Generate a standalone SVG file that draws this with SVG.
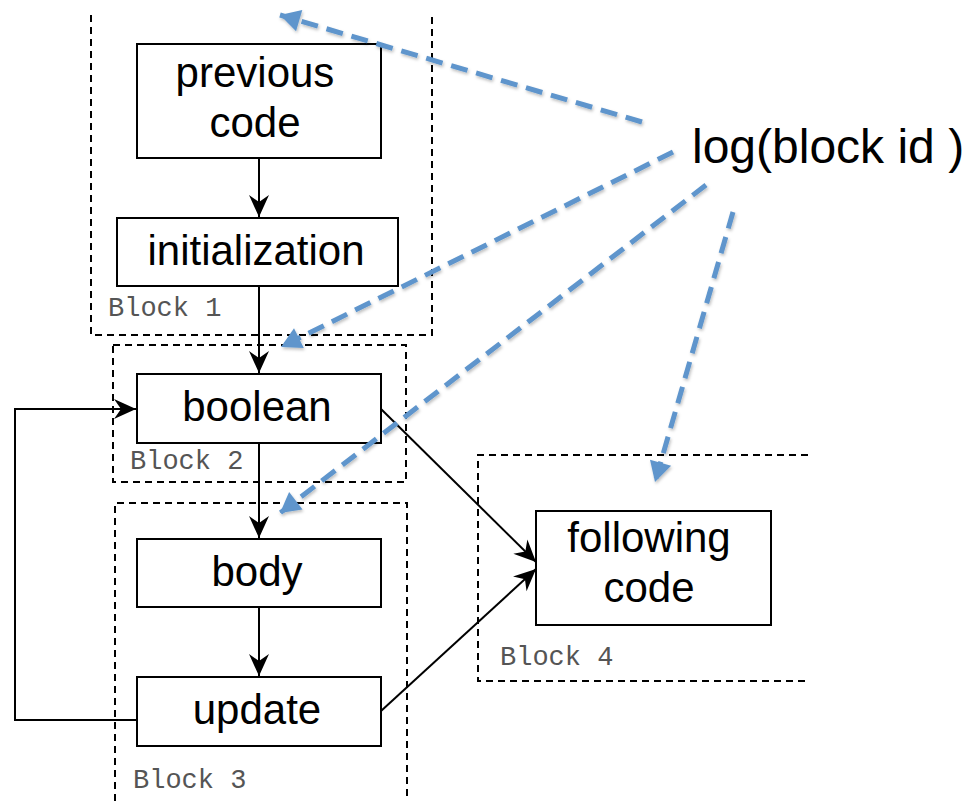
<svg xmlns="http://www.w3.org/2000/svg" width="972" height="801" viewBox="0 0 972 801">
<style>
.box{fill:#fff;stroke:#000;stroke-width:2}
.blk{fill:none;stroke:#000;stroke-width:2;stroke-dasharray:7 5}
.lbl{font-family:"Liberation Sans",Arial,sans-serif;font-size:42px;fill:#000;text-anchor:middle}
.bl{font-family:"Liberation Mono","Courier New",monospace;font-size:27px;fill:#555}
.con{fill:none;stroke:#000;stroke-width:2}
.blue{fill:none;stroke:#5E95CC;stroke-width:5;stroke-dasharray:17 9}
</style>
<defs>
<marker id="ah" markerUnits="userSpaceOnUse" markerWidth="26" markerHeight="26" viewBox="-24 -13 26 26" refX="0" refY="0" orient="auto">
<path d="M0,0 L-22,-10 L-15,0 L-22,10 Z" fill="#000"/>
</marker>
<marker id="bh" markerUnits="userSpaceOnUse" markerWidth="28" markerHeight="28" viewBox="-23 -14 26 28" refX="0" refY="0" orient="auto">
<path d="M0,0 L-20,-11 L-20,11 Z" fill="#5E95CC"/>
</marker>
<filter id="sh" x="-20%" y="-20%" width="140%" height="140%">
<feDropShadow dx="1" dy="2" stdDeviation="1.5" flood-color="#000" flood-opacity="0.25"/>
</filter>
</defs>
<g id="block1"><path class="blk" d="M91,15 V335 H432 V15"/><text class="bl" x="108" y="316">Block 1</text></g>
<g id="block2"><rect class="blk" x="113" y="345" width="293" height="137"/><text class="bl" x="130" y="469">Block 2</text></g>
<g id="block3"><path class="blk" d="M115,801 V503 H407 V801"/><text class="bl" x="133" y="788">Block 3</text></g>
<g id="block4"><path class="blk" d="M808,455 H478 V681 H808"/><text class="bl" x="500" y="665">Block 4</text></g>
<g id="connectors">
<line class="con" x1="259" y1="158" x2="259" y2="217" marker-end="url(#ah)"/>
<line class="con" x1="259" y1="286" x2="259" y2="373" marker-end="url(#ah)"/>
<line class="con" x1="259" y1="443" x2="259" y2="538" marker-end="url(#ah)"/>
<line class="con" x1="259" y1="607" x2="259" y2="676" marker-end="url(#ah)"/>
<path class="con" d="M137,720 H15 V409 H136" marker-end="url(#ah)"/>
<path class="con" d="M381,409 L536,562" marker-end="url(#ah)"/>
<path class="con" d="M381,711 L536,569" marker-end="url(#ah)"/>
</g>
<g id="prev"><rect class="box" x="137" y="44" width="244" height="114"/><text class="lbl" x="255" y="87">previous</text><text class="lbl" x="255" y="137">code</text></g>
<g id="init"><rect class="box" x="117" y="218" width="281" height="68"/><text class="lbl" x="256" y="265">initialization</text></g>
<g id="bool"><rect class="box" x="137" y="374" width="244" height="69"/><text class="lbl" x="257" y="421">boolean</text></g>
<g id="body"><rect class="box" x="137" y="539" width="244" height="68"/><text class="lbl" x="257" y="586">body</text></g>
<g id="update"><rect class="box" x="137" y="677" width="244" height="69"/><text class="lbl" x="257" y="724">update</text></g>
<g id="following"><rect class="box" x="536" y="511" width="235" height="114"/><text class="lbl" x="649" y="552">following</text><text class="lbl" x="649" y="602">code</text></g>
<g id="log"><text x="692" y="163" font-family="'Liberation Sans',Arial,sans-serif" font-size="48">log(block id )</text></g>
<g id="log-connectors" filter="url(#sh)">
<line class="blue" x1="642" y1="122" x2="280" y2="15" marker-end="url(#bh)"/>
<line class="blue" x1="673" y1="152" x2="281" y2="347" marker-end="url(#bh)"/>
<line class="blue" x1="706" y1="185" x2="280" y2="513" marker-end="url(#bh)"/>
<line class="blue" x1="733" y1="212" x2="655" y2="482" marker-end="url(#bh)"/>
</g>
</svg>
